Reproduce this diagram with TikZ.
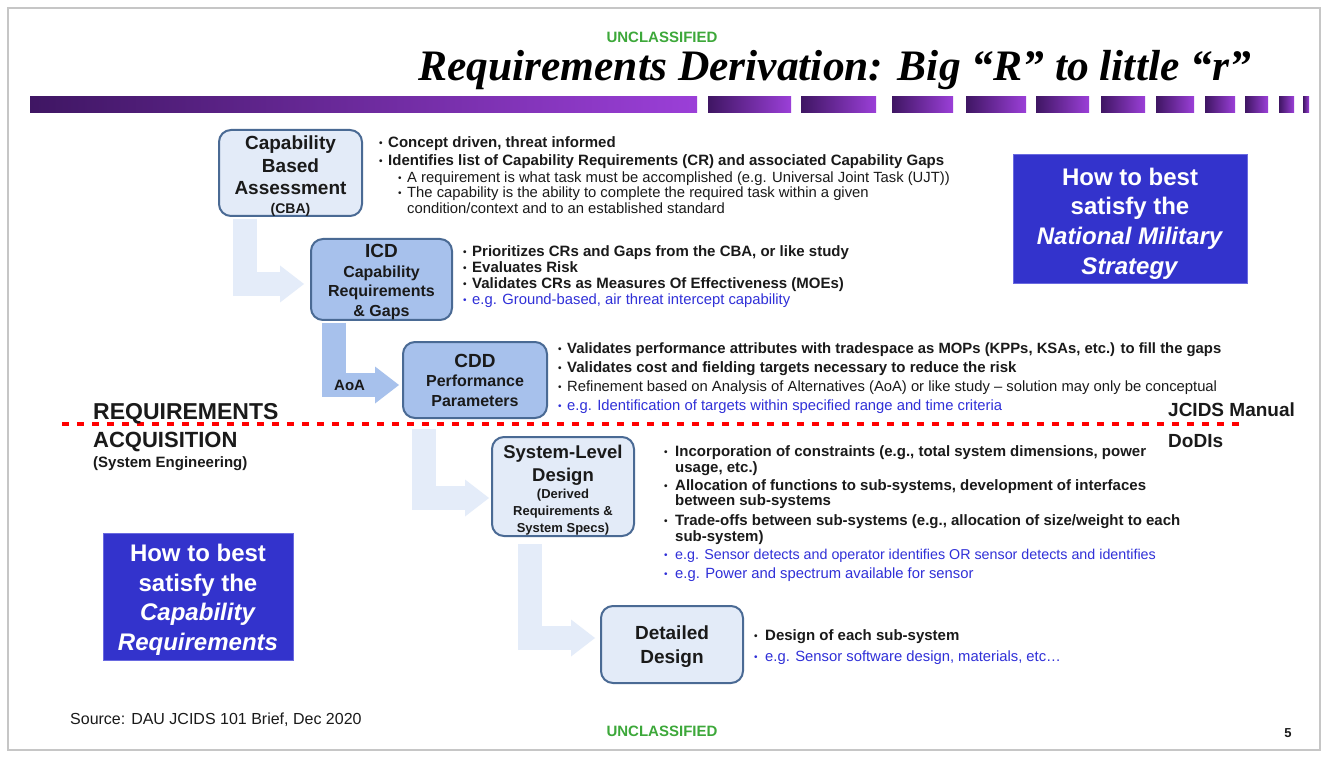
\documentclass[tikz,border=0pt]{standalone}
\usepackage{fontspec}
\setmainfont{Liberation Sans}
\newfontfamily\titlefont{Liberation Serif}
\usepackage{tikz}
\usetikzlibrary{arrows.meta,
    positioning}

\definecolor{boxline}{HTML}{4A6A94}
\definecolor{boxlite}{HTML}{E3EBF8}
\definecolor{boxmid}{HTML}{A7C1EC}
\definecolor{arrlite}{HTML}{E4ECF9}
\definecolor{navybox}{HTML}{3333CC}
\definecolor{navyedge}{HTML}{6A6AE0}
\definecolor{egblue}{HTML}{3030D8}
\definecolor{clsgreen}{HTML}{3DA83A}
\definecolor{barlo}{HTML}{3F1663}
\definecolor{barhi}{HTML}{9B3FD8}
\definecolor{inkdark}{HTML}{1A1A1A}

\newcommand\bul[1][9]{\makebox[#1pt][l]{\raisebox{1pt}{\fontsize{10}{10}\selectfont\textbullet}}\ignorespaces}
\newcommand\lift[1]{\rule{0pt}{#1pt}}

\tikzset{
    stagebox/.style={draw=boxline, line width=2pt, fill=boxlite, rounded corners=12pt,
        minimum width=143pt, inner xsep=2pt, inner ysep=0pt, align=center, text=inkdark,
        font=\fontsize{19}{22.5}\selectfont\bfseries},
    stagemid/.style={stagebox, fill=boxmid},
    goalbox/.style={fill=navybox, draw=navyedge, line width=1pt, text=white, align=center,
        font=\fontsize{24}{29.7}\selectfont\bfseries},
    flow/.style={line width=24pt, draw=arrlite,
        -{Triangle[length=24pt,width=37pt,line width=0pt]}},
    flowmid/.style={flow, draw=boxmid},
    bline/.style={anchor=base west, inner sep=0pt, text=inkdark,
        font=\fontsize{15}{18}\selectfont\bfseries},
    breg/.style={bline, font=\fontsize{14.8}{17}\selectfont},
    bsub/.style={bline, font=\fontsize{14.8}{16}\selectfont},
    bblue/.style={breg, text=egblue},
    sidelbl/.style={anchor=base west, inner sep=0pt, text=inkdark},
    clsmark/.style={anchor=base, inner sep=0pt, text=clsgreen,
        font=\fontsize{15}{15}\selectfont\bfseries},
    sepline/.style={red, line width=3.5pt, dash pattern=on 7pt off 8pt}
}

\begin{document}
\begin{tikzpicture}[x=1pt,y=-1pt]
                  \useasboundingbox (0,0) rectangle (1328,759);
                  \fill[white] (0,0) rectangle (1328,759);
                  \draw[gray!45, line width=1.5pt] (8,8) rectangle (1320,750);

                  \node[clsmark] (clstop) at (662,42.5) {UNCLASSIFIED};
                  \node[anchor=base east, inner sep=0pt,
                      font=\titlefont\fontsize{43.5}{45}\selectfont\bfseries\itshape] (title)
                      at (1251,81) {Requirements Derivation: Big “R” to little “r”};

                  \shade[left color=barlo, right color=barhi] (30,97) rectangle (697,113);
                  \foreach \a/\b in {708/791, 801/876, 892/953, 966/1026, 1036/1089,
                      1101/1145, 1156/1194, 1205/1235, 1245/1268, 1279/1294, 1303/1309}
                      \shade[left color=barlo, right color=barhi] (\a,97) rectangle (\b,113);

                  \node[stagebox, minimum height=86pt] (cba) at (290.5,173)
                      {\lift{19.5}Capability\\Based\\Assessment\\[-4pt]{\fontsize{14}{16}\selectfont (CBA)}};
                  \node[stagemid, minimum width=141pt, minimum height=81pt,
                      font=\fontsize{16}{19.5}\selectfont\bfseries] (icd) at (381.5,279.5)
                      {{\fontsize{19}{20}\selectfont\lift{18.5}ICD}\\Capability\\Requirements\\\& Gaps};
                  \node[stagemid, minimum width=144pt, minimum height=76pt,
                      font=\fontsize{16}{19.5}\selectfont\bfseries] (cdd) at (475,380)
                      {{\fontsize{19}{20}\selectfont CDD}\\Performance\\Parameters};
                  \node[stagebox, minimum width=142pt, minimum height=99pt,
                      font=\fontsize{18.5}{23}\selectfont\bfseries] (sysd) at (563,486.5)
                      {\lift{20.5}System-Level\\Design\\[-6pt]{\fontsize{13}{16}\selectfont (Derived}\\[-6pt]
                      {\fontsize{13}{16}\selectfont Requirements \&}\\[-6pt]
                      {\fontsize{13}{16}\selectfont System Specs)}};
                  \node[stagebox, minimum width=142pt, minimum height=77pt,
                      font=\fontsize{19}{24}\selectfont\bfseries] (detd) at (672,644.5)
                      {\lift{19}Detailed\\Design};

                  \node[goalbox, minimum width=234pt, minimum height=129pt] (nms) at (1130,219.5)
                      {\lift{25.5}How to best\\satisfy the\\\textit{National Military}\\\textit{Strategy}};
                  \node[goalbox, minimum width=190pt, minimum height=127pt] (capreq) at (198,596.5)
                      {\lift{24}How to best\\satisfy the\\\textit{Capability}\\\textit{Requirements}};

                  \draw[flow] ([xshift=-45.5pt,yshift=-2pt]cba.south) |- ([xshift=-6pt,yshift=-4.5pt]icd.west);
                  \draw[flowmid] ([xshift=-47.5pt,yshift=-2pt]icd.south) |-
                      node[pos=0.62, text=inkdark, font=\fontsize{15}{15}\selectfont\bfseries] (aoa) {AoA}
                      ([xshift=-3pt,yshift=-5pt]cdd.west);
                  \draw[flow] ([xshift=-51pt,yshift=-10pt]cdd.south) |- ([xshift=-2pt,yshift=-11.5pt]sysd.west);
                  \draw[flow] ([xshift=-33pt,yshift=-7pt]sysd.south) |- ([xshift=-5pt,yshift=6.5pt]detd.west);

                  \draw[sepline] (62,424) -- (1240,424);

                  \node[bline] (cba-1) at (379,148) {\bul Concept driven, threat informed};
                  \node[bline] (cba-2) at (379,166) {\bul Identifies list of Capability Requirements (CR) and associated Capability Gaps};
                  \node[bsub] (cba-3) at (398,183) {\bul A requirement is what task must be accomplished (e.g. Universal Joint Task (UJT))};
                  \node[bsub] (cba-4) at (398,198) {\bul The capability is the ability to complete the required task within a given};
                  \node[bsub] (cba-5) at (407,214) {condition/context and to an established standard};

                  \node[bline] (icd-1) at (463,257) {\bul Prioritizes CRs and Gaps from the CBA, or like study};
                  \node[bline] (icd-2) at (463,273) {\bul Evaluates Risk};
                  \node[bline] (icd-3) at (463,289) {\bul Validates CRs as Measures Of Effectiveness (MOEs)};
                  \node[bblue] (icd-4) at (463,305) {\bul e.g. Ground-based, air threat intercept capability};

                  \node[bline] (cdd-1) at (558,353) {\bul \fontsize{14.85}{18}\selectfont Validates performance attributes with tradespace as MOPs (KPPs, KSAs, etc.) to fill the gaps};
                  \node[bline] (cdd-2) at (558,372) {\bul Validates cost and fielding targets necessary to reduce the risk};
                  \node[breg] (cdd-3) at (558,391) {\bul Refinement based on Analysis of Alternatives (AoA) or like study – solution may only be conceptual};
                  \node[bblue] (cdd-4) at (558,410) {\bul e.g. Identification of targets within specified range and time criteria};

                  \node[bline] (sys-1) at (664,456) {\bul[11] Incorporation of constraints (e.g., total system dimensions, power};
                  \node[bline] (sys-2) at (675,472) {usage, etc.)};
                  \node[bline] (sys-3) at (664,490) {\bul[11] Allocation of functions to sub-systems, development of interfaces};
                  \node[bline] (sys-4) at (675,505) {between sub-systems};
                  \node[bline] (sys-5) at (664,525) {\bul[11] Trade-offs between sub-systems (e.g., allocation of size/weight to each};
                  \node[bline] (sys-6) at (675,541) {sub-system)};
                  \node[bblue] (sys-7) at (664,559) {\bul[11] \fontsize{14.3}{17}\selectfont e.g. Sensor detects and operator identifies OR sensor detects and identifies};
                  \node[bblue] (sys-8) at (664,578) {\bul[11] e.g. Power and spectrum available for sensor};

                  \node[bline] (det-1) at (754,640) {\bul[11] Design of each sub-system};
                  \node[bblue] (det-2) at (754,661) {\bul[11] e.g. Sensor software design, materials, etc…};

                  \node[sidelbl, font=\fontsize{23}{23}\selectfont\bfseries] (reqlbl) at (93,419) {REQUIREMENTS};
                  \node[sidelbl, font=\fontsize{22}{22}\selectfont\bfseries] (acqlbl) at (93,447) {ACQUISITION};
                  \node[sidelbl, font=\fontsize{15}{15}\selectfont\bfseries] (selbl) at (93,467) {(System Engineering)};
                  \node[sidelbl, font=\fontsize{19}{19}\selectfont\bfseries] (jcids) at (1168,416) {JCIDS Manual};
                  \node[sidelbl, font=\fontsize{19}{19}\selectfont\bfseries] (dodis) at (1168,447) {DoDIs};

                  \node[sidelbl, font=\fontsize{16}{16}\selectfont] (src) at (70,724) {Source: DAU JCIDS 101 Brief, Dec 2020};
                  \node[clsmark] (clsbot) at (662,736) {UNCLASSIFIED};
                  \node[anchor=base, inner sep=0pt, text=inkdark, font=\fontsize{13}{13}\selectfont\bfseries] (pgno) at (1288,737) {5};
              \end{tikzpicture}
\end{document}
